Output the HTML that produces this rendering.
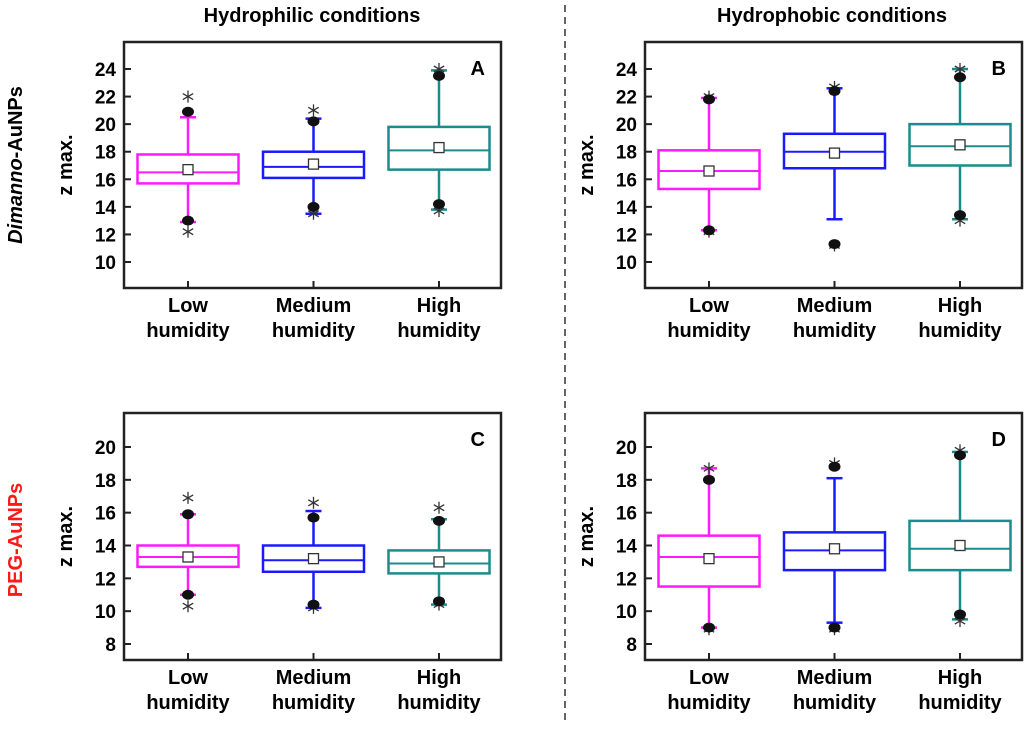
<!DOCTYPE html>
<html><head><meta charset="utf-8"><style>
body{margin:0;background:#fff;}
svg text{font-family:"Liberation Sans",Arial,sans-serif;font-weight:bold;}
</style></head><body>
<svg id="fig" width="1024" height="725" viewBox="0 0 1024 725" xmlns="http://www.w3.org/2000/svg">
<text x="312" y="22" font-size="20" text-anchor="middle">Hydrophilic conditions</text>
<text x="832" y="22" font-size="20" text-anchor="middle">Hydrophobic conditions</text>
<line x1="565" y1="5" x2="565" y2="725" stroke="#666" stroke-width="2" stroke-dasharray="7,5"/>
<text transform="translate(22,165) rotate(-90)" font-size="20" text-anchor="middle"><tspan font-style="italic">Dimanno</tspan>-AuNPs</text>
<text transform="translate(22,540) rotate(-90)" font-size="20" text-anchor="middle" fill="#ff1a1a">PEG-AuNPs</text>
</svg>
<script>
const categories=["Low|humidity","Medium|humidity","High|humidity"];
const colors=["#ff1aff","#1a1aff","#1a8c8c"];
// per panel: [q1,q3,median,mean,whiskLow,whiskHigh,dotLow,dotHigh,starLow,starHigh]
const panelA=[[15.7,17.8,16.5,16.7,12.9,20.5,13.0,20.9,12.2,22.0],[16.1,18.0,16.9,17.1,13.5,20.4,14.0,20.2,13.5,21.0],[16.7,19.8,18.1,18.3,13.8,23.9,14.2,23.5,13.7,24.0]];
const panelB=[[15.3,18.1,16.6,16.6,12.3,21.9,12.3,21.8,12.2,22.0],[16.8,19.3,18.0,17.9,13.1,22.6,11.3,22.4,11.2,22.7],[17.0,20.0,18.4,18.5,13.1,24.0,13.4,23.4,13.0,24.0]];
const panelC=[[12.7,14.0,13.3,13.3,11.0,15.9,11.0,15.9,10.3,16.9],[12.4,14.0,13.1,13.2,10.2,16.1,10.4,15.7,10.2,16.6],[12.3,13.7,12.9,13.0,10.4,15.6,10.6,15.5,10.4,16.3]];
const panelD=[[11.5,14.6,13.3,13.2,9.0,18.7,9.0,18.0,8.9,18.7],[12.5,14.8,13.7,13.8,9.3,18.1,9.0,18.8,8.9,19.0],[12.5,15.5,13.8,14.0,9.5,19.7,9.8,19.5,9.4,19.8]];
const ticksTop=[10,12,14,16,18,20,22,24];
const ticksBottom=[8,10,12,14,16,18,20];
const NS="http://www.w3.org/2000/svg";
const svg=document.getElementById('fig');
function mk(tag,a,parent){const e=document.createElementNS(NS,tag);for(const k in a)e.setAttribute(k,a[k]);(parent||svg).appendChild(e);return e;}
function star(cx,cy,parent){
 const r=6;
 [[0,1],[0.866,0.5],[0.866,-0.5]].forEach(([dx,dy])=>mk('line',{x1:cx-r*dx,y1:cy-r*dy,x2:cx+r*dx,y2:cy+r*dy,stroke:'#333','stroke-width':1.3},parent));
}
function panel(name,letter,data,ticks,x0,y0,y1,vLo,yLo,vHi,yHi){
 const W=377,H=y1-y0;
 const g=mk('g',{});
 
 
 const ys=v=>yLo+(v-vLo)*(yHi-yLo)/(vHi-vLo);
 const xs=i=>x0+64+i*125.5;
 const fr=mk('rect',{x:x0,y:y0,width:W,height:H,fill:'none',stroke:'#222','stroke-width':2.5},g);
 
 
 const L=mk('text',{x:x0+W-16,y:y0+33,'font-size':20,'text-anchor':'end'},g);L.textContent=letter;
 
 
 ticks.forEach(t=>{const y=ys(t);mk('line',{x1:x0,x2:x0+7,y1:y,y2:y,stroke:'#222','stroke-width':2},g);
  const tx=mk('text',{x:x0-8,y:y+7,'font-size':19,'text-anchor':'end'},g);tx.textContent=t;
  
  });
 const yl=mk('text',{transform:`translate(${x0-52},${(y0+y1)/2}) rotate(-90)`,'font-size':20,'text-anchor':'middle'},g);yl.textContent='z max.';
 
 
 data.forEach((d,i)=>{
  const cx=xs(i),c=colors[i],bw=101;
  mk('line',{x1:cx,x2:cx,y1:y1,y2:y1-7,stroke:'#222','stroke-width':2},g);
  const parts=categories[i].split('|');
  parts.forEach((p,j)=>{const t=mk('text',{x:cx,y:y1+24+j*25,'font-size':20,'text-anchor':'middle'},g);t.textContent=p;
   
   });
  const b=mk('g',{},g);
  
  
  mk('line',{x1:cx,x2:cx,y1:ys(d[4]),y2:ys(d[0]),stroke:c,'stroke-width':2.5},b);
  mk('line',{x1:cx,x2:cx,y1:ys(d[1]),y2:ys(d[5]),stroke:c,'stroke-width':2.5},b);
  mk('line',{x1:cx-8,x2:cx+8,y1:ys(d[4]),y2:ys(d[4]),stroke:c,'stroke-width':2.5},b);
  mk('line',{x1:cx-8,x2:cx+8,y1:ys(d[5]),y2:ys(d[5]),stroke:c,'stroke-width':2.5},b);
  mk('rect',{x:cx-bw/2,y:ys(d[1]),width:bw,height:ys(d[0])-ys(d[1]),fill:'#fff',stroke:c,'stroke-width':2.5},b);
  mk('line',{x1:cx-bw/2,x2:cx+bw/2,y1:ys(d[2]),y2:ys(d[2]),stroke:c,'stroke-width':2},b);
  mk('rect',{x:cx-5,y:ys(d[3])-5,width:10,height:10,fill:'#fff',stroke:'#333','stroke-width':1.3},b);
  [d[8],d[9]].forEach(v=>star(cx,ys(v),b));
  [d[6],d[7]].forEach(v=>mk('ellipse',{cx:cx,cy:ys(v),rx:6,ry:5,fill:'#111'},b));
 });
}
panel('a','A',panelA,ticksTop,124,42,288,10,262,24,69);
panel('b','B',panelB,ticksTop,645,42,288,10,262,24,69);
panel('c','C',panelC,ticksBottom,124,413,660,8,644,20,447);
panel('d','D',panelD,ticksBottom,645,413,660,8,644,20,447);
</script>
</body></html>
